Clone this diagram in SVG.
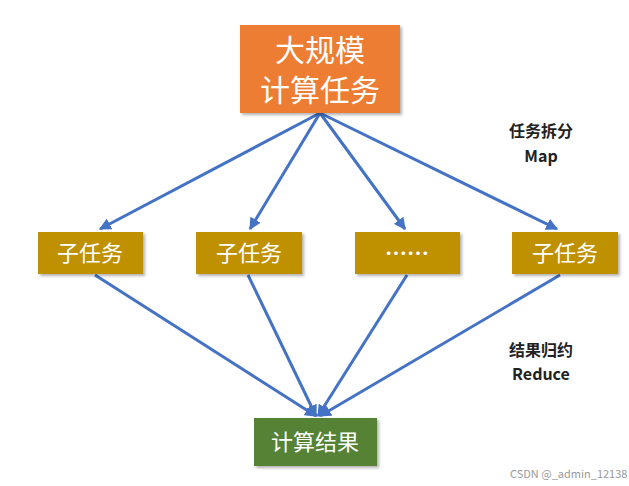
<svg xmlns="http://www.w3.org/2000/svg" width="629" height="486" viewBox="0 0 629 486">
<defs>
<marker id="ah" viewBox="0 0 10 10" refX="9" refY="5" markerWidth="4" markerHeight="4" orient="auto"><path d="M0,0 L10,5 L0,10 z" fill="#4472c4"/></marker>
<filter id="sh"><feDropShadow dx="2" dy="2" stdDeviation="1.5" flood-color="#000" flood-opacity="0.3"/></filter>
</defs>
<style>
text{font-family:"Noto Sans CJK SC","Noto Sans",sans-serif;}
.sub{fill:#bf9000;filter:url(#sh);}
.st{fill:#fff;font-size:22px;text-anchor:middle;}
.c line{stroke:#4472c4;stroke-width:3;}
.lbl{font-size:16px;font-weight:bold;text-anchor:middle;fill:#222;}
</style>
<rect width="629" height="486" fill="#fff"/>
<g class="c">
<line x1="320" y1="113" x2="100" y2="229" marker-end="url(#ah)"/>
<line x1="320" y1="113" x2="250" y2="229" marker-end="url(#ah)"/>
<line x1="320" y1="113" x2="405" y2="229" marker-end="url(#ah)"/>
<line x1="320" y1="113" x2="557" y2="229" marker-end="url(#ah)"/>
<line x1="95" y1="275" x2="316" y2="416" marker-end="url(#ah)"/>
<line x1="248" y1="275" x2="316" y2="416" marker-end="url(#ah)"/>
<line x1="407" y1="275" x2="318" y2="416" marker-end="url(#ah)"/>
<line x1="560" y1="275" x2="320" y2="416" marker-end="url(#ah)"/>
</g>
<g id="top"><rect x="240" y="25" width="160" height="88" fill="#ed7d31" filter="url(#sh)"/>
<text x="320" y="61" fill="#fff" font-size="30" text-anchor="middle">大规模</text>
<text x="320" y="101" fill="#fff" font-size="30" text-anchor="middle">计算任务</text></g>
<g id="s1"><rect class="sub" x="38" y="232" width="105" height="42"/><text class="st" x="90" y="261">子任务</text></g>
<g id="s2"><rect class="sub" x="196" y="232" width="106" height="42"/><text class="st" x="249" y="261">子任务</text></g>
<g id="s3"><rect class="sub" x="355" y="232" width="105" height="42"/><text class="st" x="407" y="261" font-weight="bold">……</text></g>
<g id="s4"><rect class="sub" x="512" y="232" width="106" height="42"/><text class="st" x="565" y="261">子任务</text></g>
<g id="res"><rect x="254" y="418" width="123" height="48" fill="#548235" filter="url(#sh)"/><text x="315" y="450" fill="#fff" font-size="22" text-anchor="middle">计算结果</text></g>
<text class="lbl" x="541" y="137">任务拆分</text>
<text class="lbl" x="541" y="162">Map</text>
<text class="lbl" x="541" y="356">结果归约</text>
<text class="lbl" x="541" y="380">Reduce</text>
<text x="510" y="478" font-size="11" fill="#999" font-family="Liberation Sans,sans-serif">CSDN @_admin_12138</text>
</svg>
